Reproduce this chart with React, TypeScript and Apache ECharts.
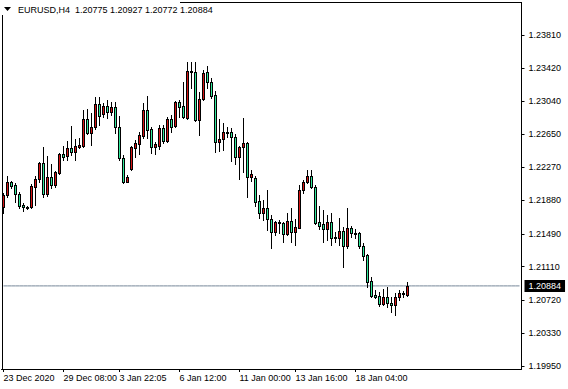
import { useEffect, useRef } from "react";
import * as echarts from "echarts";

const SYMBOL = "EURUSD,H4";

const OPEN = [
  1.21808, 1.21944, 1.22092, 1.22061, 1.21952, 1.21828, 1.21793, 1.21808, 1.22041, 1.22127,
  1.22314, 1.21952, 1.22154, 1.22061, 1.22197, 1.22419, 1.22403, 1.22489, 1.22442, 1.22508,
  1.22519, 1.22831, 1.22664, 1.22734, 1.23002, 1.22885, 1.22982, 1.22909, 1.22967, 1.22741,
  1.22379, 1.22099, 1.22247, 1.22496, 1.22542, 1.22636, 1.22936, 1.22714, 1.22508, 1.22519,
  1.22729, 1.22574, 1.22831, 1.22752, 1.23025, 1.22982, 1.22846, 1.23379, 1.23375, 1.22819,
  1.2306, 1.23375, 1.23266, 1.2311, 1.22566, 1.22594, 1.22682, 1.22682, 1.22617, 1.22384,
  1.22508, 1.22547, 1.22151, 1.22139, 1.21874, 1.21731, 1.21789, 1.21664, 1.21509, 1.21629,
  1.21614, 1.21486, 1.21644, 1.21516, 1.21563, 1.22003, 1.22092, 1.22166, 1.22034, 1.21626,
  1.21602, 1.21544, 1.21626, 1.21451, 1.21439, 1.21524, 1.21353, 1.21556, 1.21505, 1.21498,
  1.21353, 1.21245, 1.20941, 1.20778, 1.2077, 1.2067, 1.20751, 1.20688, 1.20661, 1.20751,
  1.20793, 1.20775,
];
const CLOSE = [
  1.21944, 1.22092, 1.22053, 1.21952, 1.21819, 1.21801, 1.21804, 1.22053, 1.22131, 1.22317,
  1.21952, 1.22154, 1.22061, 1.22209, 1.22419, 1.22391, 1.22489, 1.22442, 1.22519, 1.22527,
  1.22831, 1.22664, 1.22734, 1.23002, 1.22869, 1.22982, 1.22909, 1.22967, 1.22741, 1.22379,
  1.22099, 1.22151, 1.225, 1.22547, 1.22644, 1.22936, 1.22702, 1.22508, 1.22535, 1.22729,
  1.22574, 1.22831, 1.22741, 1.23025, 1.22974, 1.22857, 1.2339, 1.23387, 1.22819, 1.23064,
  1.23367, 1.23266, 1.23102, 1.22566, 1.22597, 1.22675, 1.22675, 1.22617, 1.22384, 1.225,
  1.22547, 1.22151, 1.22189, 1.21866, 1.21731, 1.21789, 1.21661, 1.21509, 1.21626, 1.21614,
  1.21486, 1.21644, 1.21516, 1.21568, 1.22003, 1.22099, 1.22166, 1.22034, 1.21621, 1.21586,
  1.21544, 1.21633, 1.21446, 1.21443, 1.21524, 1.21353, 1.21556, 1.21505, 1.21489, 1.21353,
  1.21236, 1.20933, 1.2077, 1.20751, 1.2067, 1.20751, 1.20681, 1.20661, 1.20751, 1.20805,
  1.20801, 1.20884,
];
const LOW = [
  1.21731, 1.21924, 1.22022, 1.21866, 1.21789, 1.21758, 1.21781, 1.21796, 1.21828, 1.22092,
  1.21924, 1.21936, 1.22029, 1.22041, 1.22186, 1.22352, 1.22352, 1.22411, 1.22352, 1.22489,
  1.22508, 1.22652, 1.22527, 1.22714, 1.22761, 1.22857, 1.22846, 1.22877, 1.22664, 1.22352,
  1.22088, 1.22092, 1.22236, 1.22384, 1.22419, 1.22612, 1.22606, 1.2243, 1.22419, 1.22477,
  1.22547, 1.22559, 1.22682, 1.22741, 1.22857, 1.22839, 1.22831, 1.23196, 1.22807, 1.22644,
  1.23052, 1.23189, 1.23075, 1.22449, 1.22461, 1.22469, 1.22617, 1.22344, 1.22302, 1.22127,
  1.22216, 1.21924, 1.22111, 1.21816, 1.21673, 1.21653, 1.21536, 1.21323, 1.21478, 1.21505,
  1.214, 1.21478, 1.214, 1.21361, 1.21556, 1.21971, 1.22081, 1.22022, 1.21606, 1.21548,
  1.214, 1.21419, 1.21361, 1.214, 1.21361, 1.21108, 1.21323, 1.21458, 1.21439, 1.21323,
  1.21186, 1.20875, 1.20758, 1.2074, 1.20653, 1.20661, 1.20642, 1.20583, 1.20545, 1.2072,
  1.20758, 1.20772,
];
const HIGH = [
  1.21964, 1.22166, 1.22108, 1.22081, 1.21983, 1.21847, 1.21816, 1.22069, 1.22166, 1.22333,
  1.22508, 1.22399, 1.22302, 1.22224, 1.2243, 1.22519, 1.22574, 1.22749, 1.22594, 1.22606,
  1.22936, 1.22947, 1.22897, 1.23091, 1.23091, 1.23014, 1.23052, 1.23025, 1.23025, 1.22866,
  1.22411, 1.22177, 1.22519, 1.22586, 1.22682, 1.23014, 1.23102, 1.22741, 1.22566, 1.22761,
  1.22761, 1.22857, 1.22877, 1.2304, 1.23052, 1.23259, 1.23499, 1.23499, 1.23492, 1.23142,
  1.23402, 1.23449, 1.23309, 1.23161, 1.22831, 1.22787, 1.22734, 1.22722, 1.22656, 1.22516,
  1.22839, 1.22566, 1.22236, 1.22166, 1.21944, 1.21886, 1.22003, 1.21711, 1.21644, 1.21653,
  1.21633, 1.21738, 1.21789, 1.21661, 1.22061, 1.22119, 1.22236, 1.22236, 1.22061, 1.21819,
  1.21769, 1.21711, 1.21731, 1.21516, 1.21673, 1.21575, 1.21789, 1.21586, 1.21548, 1.21516,
  1.21381, 1.21253, 1.20991, 1.20836, 1.20816, 1.20848, 1.20875, 1.20758, 1.20798, 1.20836,
  1.20825, 1.20927,
];

const TIME_TICK_BARS = [0, 15, 29, 44, 59, 73, 88];
const TIME_TICK_LABELS = [
  "23 Dec 2020",
  "29 Dec 08:00",
  "3 Jan 22:05",
  "6 Jan 12:00",
  "11 Jan 00:00",
  "13 Jan 16:00",
  "18 Jan 04:00",
];
const PRICE_TICKS = [
  1.1995, 1.2033, 1.2072, 1.2111, 1.2149, 1.2188, 1.2227, 1.2265, 1.2304, 1.2342, 1.2381,
];
const BID = 1.20884;
const Y_MIN = 1.19915;
const Y_MAX = 1.24183;
const SLOTS = 130; // bars visible including right chart shift

const FONT = "'Liberation Sans', Arial, sans-serif";
const BULL = "#d41414";
const BEAR = "#30e89a";

export default function App() {
  const ref = useRef<HTMLDivElement>(null);

  useEffect(() => {
    if (!ref.current) return;
    const chart = echarts.init(ref.current, undefined, { renderer: "svg" });
    const categories = Array.from({ length: SLOTS }, (_, i) => String(i));
    const candles = OPEN.map((o, i) => [i, o, CLOSE[i], LOW[i], HIGH[i]]);
    const last = OPEN.length - 1;
    const title = `${SYMBOL}  ${OPEN[last].toFixed(5)} ${HIGH[last].toFixed(5)} ${LOW[last].toFixed(5)} ${CLOSE[last].toFixed(5)}`;
    const isTick = (idx: number) => TIME_TICK_BARS.indexOf(idx) >= 0;

    const renderCandle = (_params: any, api: any) => {
      const idx = api.value(0);
      const o = api.value(1);
      const c = api.value(2);
      const l = api.value(3);
      const h = api.value(4);
      const pO = api.coord([idx, o]);
      const yC = api.coord([idx, c])[1];
      const yL = api.coord([idx, l])[1];
      const yH = api.coord([idx, h])[1];
      const cx = Math.floor(pO[0]) + 0.5;
      const top = Math.round(Math.min(pO[1], yC));
      let bottom = Math.round(Math.max(pO[1], yC));
      if (bottom - top < 1) bottom = top + 1;
      const fill = c >= o ? BULL : BEAR;
      const children: any[] = [
        {
          type: "line",
          shape: { x1: cx, y1: Math.round(yH), x2: cx, y2: Math.round(yL) + 1 },
          style: { stroke: "#000", lineWidth: 1 },
        },
        {
          type: "rect",
          shape: { x: cx - 1.5, y: top, width: 3, height: bottom - top + 1 },
          style: { fill: "#000" },
        },
      ];
      if (bottom - top > 1) {
        children.push({
          type: "rect",
          shape: { x: cx - 0.5, y: top + 1, width: 1, height: bottom - top - 1 },
          style: { fill },
        });
      }
      return { type: "group", children };
    };

    chart.setOption({
      animation: false,
      backgroundColor: "#ffffff",
      grid: { left: 1.5, right: 46.5, top: 3, bottom: 20, containLabel: false },
      xAxis: {
        type: "category",
        data: categories,
        boundaryGap: true,
        axisLine: { show: true, lineStyle: { color: "#000", width: 1 } },
        axisTick: {
          show: true,
          alignWithLabel: true,
          interval: (idx: number) => isTick(idx),
          length: 3,
          lineStyle: { color: "#000" },
        },
        axisLabel: {
          show: true,
          interval: (idx: number) => isTick(idx),
          formatter: (_v: string, idx: number) => {
            const k = TIME_TICK_BARS.indexOf(idx);
            return k >= 0 ? TIME_TICK_LABELS[k] : "";
          },
          align: "left",
          margin: 4,
          color: "#000",
          fontSize: 9,
          fontFamily: FONT,
        },
        splitLine: { show: false },
      },
      yAxis: {
        type: "value",
        position: "right",
        min: Y_MIN,
        max: Y_MAX,
        scale: true,
        axisLine: { show: true, lineStyle: { color: "#000", width: 1 } },
        axisTick: {
          show: true,
          length: 3,
          customValues: PRICE_TICKS,
          lineStyle: { color: "#000" },
        },
        axisLabel: {
          show: true,
          customValues: PRICE_TICKS,
          formatter: (v: number) => v.toFixed(5),
          margin: 7,
          color: "#000",
          fontSize: 9,
          fontFamily: FONT,
        },
        splitLine: { show: false },
      },
      series: [
        {
          type: "line",
          data: categories.map(() => BID),
          symbol: "none",
          showSymbol: false,
          silent: true,
          z: 1,
          lineStyle: { color: "#778899", width: 1, type: "solid" },
          emphasis: { disabled: true },
          endLabel: {
            show: true,
            formatter: () => BID.toFixed(5),
            color: "#fff",
            backgroundColor: "#000",
            padding: [2, 4, 1, 4],
            fontSize: 9,
            fontFamily: FONT,
            distance: 5,
          },
        },
        {
          type: "custom",
          data: candles,
          encode: { x: 0, y: [1, 2, 3, 4] },
          renderItem: renderCandle,
          silent: true,
          z: 2,
        },
      ],
      graphic: [
        { type: "line", shape: { x1: 2.5, y1: 15, x2: 2.5, y2: 369 }, style: { stroke: "#000", lineWidth: 1 }, silent: true },
        { type: "line", shape: { x1: 180, y1: 2.5, x2: 522, y2: 2.5 }, style: { stroke: "#000", lineWidth: 1 }, silent: true },
        { type: "polygon", shape: { points: [[4, 7], [11, 7], [7.5, 11]] }, style: { fill: "#000" }, silent: true },
        {
          type: "text",
          x: 18,
          y: 10,
          style: { text: title, fill: "#000", font: `9px ${FONT}`, textVerticalAlign: "middle" },
          silent: true,
        },
      ],
    });
    return () => chart.dispose();
  }, []);

  return (
    <div
      ref={ref}
      style={{ position: "fixed", left: 0, top: 0, width: 568, height: 389, background: "#fff" }}
    />
  );
}
